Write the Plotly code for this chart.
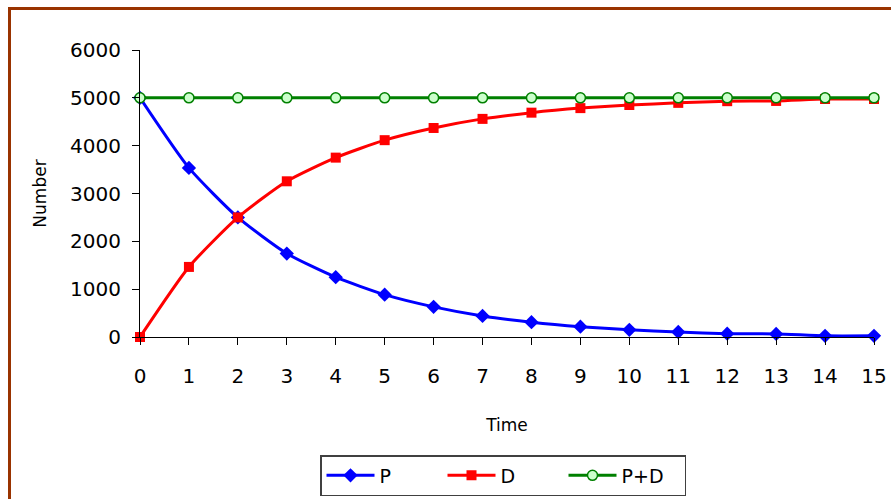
import plotly.graph_objects as go

time = list(range(16))
P = [5000, 3535, 2500, 1745, 1250, 885, 630, 440, 310, 215, 150, 105, 70, 65, 25, 25]
D = [0, 1465, 2500, 3255, 3750, 4115, 4370, 4560, 4690, 4785, 4850, 4895, 4930, 4935, 4975, 4975]
PD = [5000] * 16

FONT = "DejaVu Sans"

W, H = 891, 499
L, R, T, B = 140, 17, 50, 162
PW, PH = W - L - R, H - T - B

fig = go.Figure()
fig.add_trace(go.Scatter(x=time, y=P, name="P", mode="lines+markers",
                         line=dict(color="#0000ff", width=3, shape="spline", smoothing=0.6),
                         marker=dict(symbol="diamond", size=11, color="#0000ff"),
                         cliponaxis=False))
fig.add_trace(go.Scatter(x=time, y=D, name="D", mode="lines+markers",
                         line=dict(color="#ff0000", width=3, shape="spline", smoothing=0.6),
                         marker=dict(symbol="square", size=10, color="#ff0000"),
                         cliponaxis=False))
fig.add_trace(go.Scatter(x=time, y=PD, name="P+D", mode="lines+markers",
                         line=dict(color="#008000", width=3),
                         marker=dict(symbol="circle", size=10, color="#ccffcc",
                                     line=dict(color="#008000", width=1.5)),
                         cliponaxis=False))

fig.update_layout(
    width=W, height=H,
    margin=dict(l=L, r=R, t=T, b=B, autoexpand=False),
    plot_bgcolor="white", paper_bgcolor="white",
    font=dict(family=FONT, color="black"),
    showlegend=True,
    legend=dict(orientation="h", x=(503 - L) / PW, xanchor="center",
                y=(PH + T - 455) / PH, yanchor="top",
                bordercolor="#404040", borderwidth=1.5, font=dict(size=19),
                itemwidth=48, entrywidthmode="pixels", entrywidth=58),
    shapes=[dict(type="rect", xref="paper", yref="paper",
                 x0=(9.5 - L) / PW, x1=2, y0=-2, y1=1 + (T - 8.5) / PH,
                 line=dict(color="#993300", width=3), layer="below")],
)
fig.update_xaxes(range=[0, 15], tickmode="array", tickvals=time,
                 ticktext=[str(t) for t in time],
                 showline=True, linecolor="black", linewidth=1.2,
                 ticks="outside", ticklen=7, tickcolor="black",
                 ticklabelstandoff=14, automargin=False,
                 showgrid=False, zeroline=False, tickfont=dict(size=20),
                 title=dict(text="Time", font=dict(size=17), standoff=32))
fig.update_yaxes(range=[0, 6000], tickvals=[0, 1000, 2000, 3000, 4000, 5000, 6000],
                 showline=True, linecolor="black", linewidth=1.2,
                 ticks="outside", ticklen=7, tickcolor="black",
                 ticklabelstandoff=7, automargin=False,
                 showgrid=False, zeroline=False, tickfont=dict(size=20),
                 title=dict(text="Number", font=dict(size=17), standoff=19))

fig.write_html(
    "out.html",
    config={"displayModeBar": False},
    post_script="document.body.style.margin='0';document.body.style.overflow='hidden';",
)
